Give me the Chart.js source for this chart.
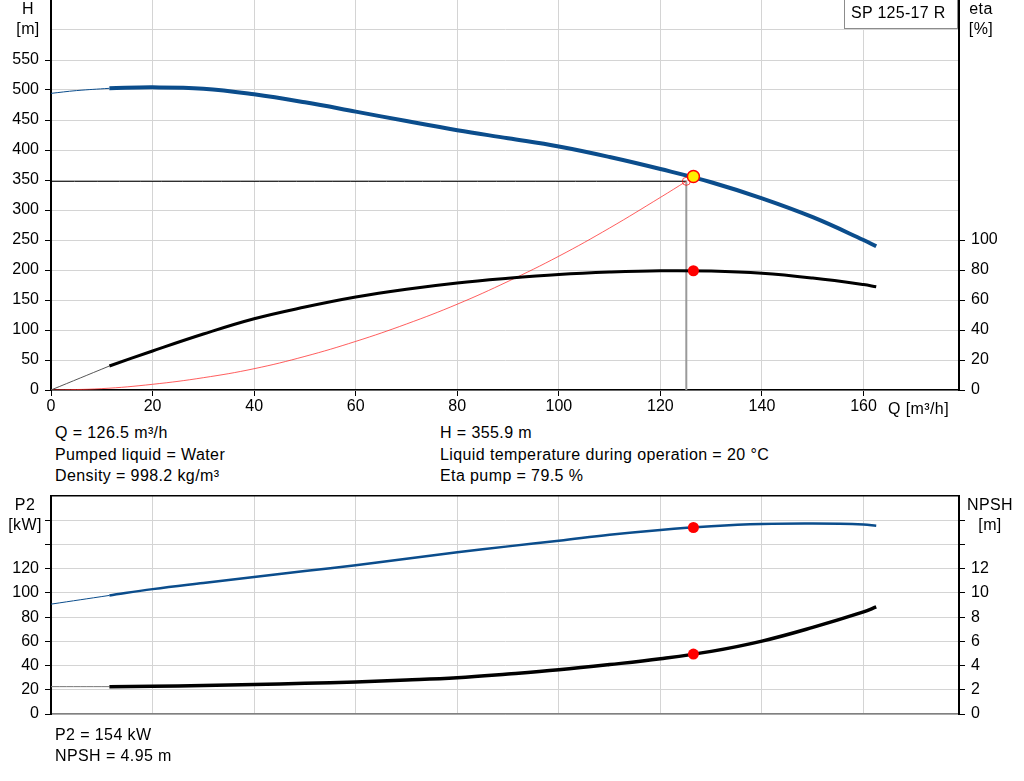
<!DOCTYPE html>
<html>
<head>
<meta charset="utf-8">
<title>SP 125-17 R</title>
<script src="https://cdn.jsdelivr.net/npm/chart.js@4.4.1/dist/chart.umd.min.js"></script>
<style>
body { margin: 0; background: #fff; font-family: "Liberation Sans", Arial, sans-serif; font-size: 16px; color: #000; }
#page { position: relative; width: 1024px; height: 781px; overflow: hidden; }
canvas { position: absolute; left: 0; }
.t { position: absolute; white-space: nowrap; line-height: 20px; letter-spacing: 0.4px; }
.c { width: 60px; text-align: center; }
#model { position: absolute; left: 844px; top: -1px; width: 114px; height: 30px; box-sizing: border-box;
  border: 1px solid #8c8c8c; background: #fff; padding: 3px 0 0 6px; line-height: 20px; white-space: nowrap; letter-spacing: 0.3px; }
</style>
</head>
<body>
<div id="page">
  <canvas id="topChart" width="1024" height="420" style="top:0"></canvas>
  <canvas id="bottomChart" width="1024" height="240" style="top:486px"></canvas>

  <div class="t c" style="left:-2px; top:-1px">H</div>
  <div class="t c" style="left:-2px; top:19px">[m]</div>
  <div class="t c" style="left:951px; top:-1px">eta</div>
  <div class="t c" style="left:951px; top:19px">[%]</div>
  <div id="model">SP 125-17 R</div>
  <div class="t" style="left:888px; top:399px">Q [m³/h]</div>

  <div class="t" style="left:55px; top:423px">Q = 126.5 m³/h</div>
  <div class="t" style="left:55px; top:445px">Pumped liquid = Water</div>
  <div class="t" style="left:55px; top:466px">Density = 998.2 kg/m³</div>
  <div class="t" style="left:440px; top:423px">H = 355.9 m</div>
  <div class="t" style="left:440px; top:445px">Liquid temperature during operation = 20 °C</div>
  <div class="t" style="left:440px; top:466px">Eta pump = 79.5 %</div>

  <div class="t c" style="left:-5px; top:495px">P2</div>
  <div class="t c" style="left:-5px; top:515px">[kW]</div>
  <div class="t c" style="left:960px; top:495px">NPSH</div>
  <div class="t c" style="left:960px; top:515px">[m]</div>

  <div class="t" style="left:55px; top:725px">P2 = 154 kW</div>
  <div class="t" style="left:55px; top:746px">NPSH = 4.95 m</div>
</div>

<script>
// Axis ranges and ticks
const xMax = 178.8;
const xTicks = [0, 20, 40, 60, 80, 100, 120, 140, 160];
const hTicks = [0, 50, 100, 150, 200, 250, 300, 350, 400, 450, 500, 550, 600];
const hLabels = ['0', '50', '100', '150', '200', '250', '300', '350', '400', '450', '500', '550', ''];
const etaTicks = [0, 20, 40, 60, 80, 100];
const p2Ticks = [0, 20, 40, 60, 80, 100, 120, 140, 160];
const p2Labels = ['0', '20', '40', '60', '80', '100', '120', '', ''];
const npshTicks = [0, 2, 4, 6, 8, 10, 12, 14, 16];
const npshLabels = ['0', '2', '4', '6', '8', '10', '12', '', ''];

// Flow points shared by the main curves (m3/h)
const curveQ = [11.5, 20, 30, 40, 50, 60, 70, 80, 90, 100, 110, 120, 130, 140, 150, 160, 162.5];

// Head curve (m)
const hStartQ = [0, 5, 11.5];
const hStartH = [494.4, 499, 502.8];
const hH = [502.8, 504.4, 502.2, 492.8, 479.5, 464, 448.2, 433, 419.5, 405.8, 388.3, 368.3, 346.3, 319.4, 288, 250, 239.5];

// Efficiency curve (%)
const etaStartQ = [0, 11.5];
const etaStart = [0, 16];
const eta = [16, 26, 37.3, 47.5, 55.3, 62, 67.2, 71.4, 74.5, 77, 78.6, 79.5, 79.3, 77.8, 74.6, 70.3, 68.8];

// System curve (m)
const sysQ = [0, 10, 20, 30, 40, 50, 60, 70, 80, 90, 100, 110, 120, 125.1];
const sysH = [0, 2.3, 9.5, 20.5, 35.5, 56, 81, 110, 143, 181, 223, 270, 321, 347.8];

// Power curve (kW)
const p2StartQ = [0, 11.5];
const p2Start = [90.7, 97.9];
const p2 = [97.9, 103.1, 108.2, 113.1, 118, 122.8, 128.2, 133.5, 138.4, 143, 148, 152, 155, 156.8, 157.2, 156.5, 155.4];

// NPSH curve (m)
const npshStartQ = [0, 11.5];
const npshStart = [2.26, 2.26];
const npsh = [2.26, 2.29, 2.35, 2.43, 2.53, 2.65, 2.8, 2.99, 3.3, 3.65, 4.08, 4.56, 5.17, 6.02, 7.15, 8.43, 8.84];

// Duty point and operating point
const dutyQ = 125.1;
const dutyH = 347.8;
const opQ = 126.5;
const opH = 355.9;
const opEta = 79.5;
const opP2 = 154;
const opNpsh = 4.95;

const blue = '#0b4d8c';
const gridColor = '#d4d4d4';
Chart.defaults.font.family = '"Liberation Sans", Arial, sans-serif';
Chart.defaults.font.size = 16;
Chart.defaults.color = '#000';

function pts(xs, ys) {
    return xs.map((x, i) => ({ x: x, y: ys[i] }));
}

function curve(xs, ys, color, width, axis) {
    return {
        data: pts(xs, ys), yAxisID: axis, showLine: true, fill: false,
        borderColor: color, borderWidth: width, pointRadius: 0,
        tension: 0.4
    };
}

function marker(x, y, radius, fill, stroke, strokeWidth, axis) {
    return {
        data: [{ x: x, y: y }], yAxisID: axis, showLine: false,
        pointRadius: radius, pointBackgroundColor: fill,
        pointBorderColor: stroke, pointBorderWidth: strokeWidth
    };
}

// fixes the size of an axis box so the plot area lands where it should
function fixSize(w, h) {
    return function(scale) {
        if (w !== null) scale.width = w;
        if (h !== null) scale.height = h;
        scale.paddingTop = 0;
        scale.paddingBottom = 0;
        scale.paddingLeft = 0;
        scale.paddingRight = 0;
    };
}

function setTicks(values) {
    return function(scale) {
        scale.ticks = values.map(v => ({ value: v }));
    };
}

const baseOptions = {
    responsive: false,
    animation: false,
    events: [],
    layout: { padding: 0, autoPadding: false },
    plugins: { legend: { display: false }, tooltip: { enabled: false } }
};

// Top panel: head, efficiency, system curve
new Chart(document.getElementById('topChart'), {
    type: 'scatter',
    data: {
        datasets: [
            marker(opQ, opH, 6, '#ffee00', '#ff0000', 1.5, 'y'),
            marker(opQ, opEta, 5.5, '#ff0000', '#ff0000', 0, 'eta'),
            marker(dutyQ, dutyH, 4, 'rgba(0,0,0,0)', 'rgba(255,0,0,0.7)', 1, 'y'),
            curve(curveQ, hH, blue, 4, 'y'),
            curve(hStartQ, hStartH, blue, 1, 'y'),
            curve(curveQ, eta, '#000', 3, 'eta'),
            curve(etaStartQ, etaStart, '#555', 1, 'eta'),
            curve(sysQ, sysH, 'rgba(255,40,40,0.75)', 1, 'y'),
            curve([0, dutyQ], [dutyH, dutyH], '#000', 1, 'y'),
            curve([dutyQ, dutyQ], [dutyH, 0], '#9a9a9a', 2, 'y')
        ]
    },
    options: Object.assign({}, baseOptions, {
        scales: {
            x: {
                type: 'linear', position: 'bottom', min: 0, max: xMax,
                afterBuildTicks: setTicks(xTicks),
                afterFit: fixSize(null, 30),
                grid: { color: gridColor, lineWidth: 1, tickLength: 6, tickColor: '#000' },
                border: { color: '#000', width: 1.5 },
                ticks: { padding: 1, maxRotation: 0, autoSkip: false }
            },
            y: {
                type: 'linear', position: 'left', min: 0, max: 650,
                afterBuildTicks: setTicks(hTicks),
                afterFit: fixSize(51, null),
                grid: {
                    color: gridColor, lineWidth: 1, tickLength: 6,
                    tickColor: ctx => (ctx.tick && ctx.tick.value > 550) ? 'rgba(0,0,0,0)' : '#000'
                },
                border: { color: '#000', width: 2 },
                ticks: { padding: 6, autoSkip: false, callback: (v, i) => hLabels[i] }
            },
            eta: {
                type: 'linear', position: 'right', min: 0, max: 260,
                afterBuildTicks: setTicks(etaTicks),
                afterFit: fixSize(65, null),
                grid: { drawOnChartArea: false, tickLength: 6, tickColor: '#000' },
                border: { color: '#000', width: 2 },
                ticks: { padding: 6, autoSkip: false }
            }
        }
    })
});

// Bottom panel: power and NPSH
new Chart(document.getElementById('bottomChart'), {
    type: 'scatter',
    data: {
        datasets: [
            marker(opQ, opP2, 5.5, '#ff0000', '#ff0000', 0, 'y'),
            marker(opQ, opNpsh, 5.5, '#ff0000', '#ff0000', 0, 'npsh'),
            curve(curveQ, p2, blue, 2.5, 'y'),
            curve(p2StartQ, p2Start, blue, 1, 'y'),
            curve(curveQ, npsh, '#000', 3.5, 'npsh'),
            curve(npshStartQ, npshStart, '#777', 1, 'npsh')
        ]
    },
    options: Object.assign({}, baseOptions, {
        scales: {
            x: {
                type: 'linear', position: 'bottom', min: 0, max: xMax,
                afterBuildTicks: setTicks(xTicks),
                afterFit: fixSize(null, 12),
                grid: { color: gridColor, lineWidth: 1, drawTicks: false },
                border: { color: '#808080', width: 1.5 },
                ticks: { display: false }
            },
            xTop: {
                type: 'linear', position: 'top', min: 0, max: xMax,
                afterFit: fixSize(null, 10),
                grid: { display: false },
                border: { color: '#000', width: 1.5 },
                ticks: { display: false }
            },
            y: {
                type: 'linear', position: 'left', min: 0, max: 180,
                afterBuildTicks: setTicks(p2Ticks),
                afterFit: fixSize(51, null),
                grid: { color: gridColor, lineWidth: 1, tickLength: 6, tickColor: '#000' },
                border: { color: '#000', width: 2 },
                ticks: { padding: 6, autoSkip: false, callback: (v, i) => p2Labels[i] }
            },
            npsh: {
                type: 'linear', position: 'right', min: 0, max: 18,
                afterBuildTicks: setTicks(npshTicks),
                afterFit: fixSize(65, null),
                grid: { drawOnChartArea: false, tickLength: 6, tickColor: '#000' },
                border: { color: '#000', width: 2 },
                ticks: { padding: 6, autoSkip: false, callback: (v, i) => npshLabels[i] }
            }
        }
    })
});
</script>
</body>
</html>
